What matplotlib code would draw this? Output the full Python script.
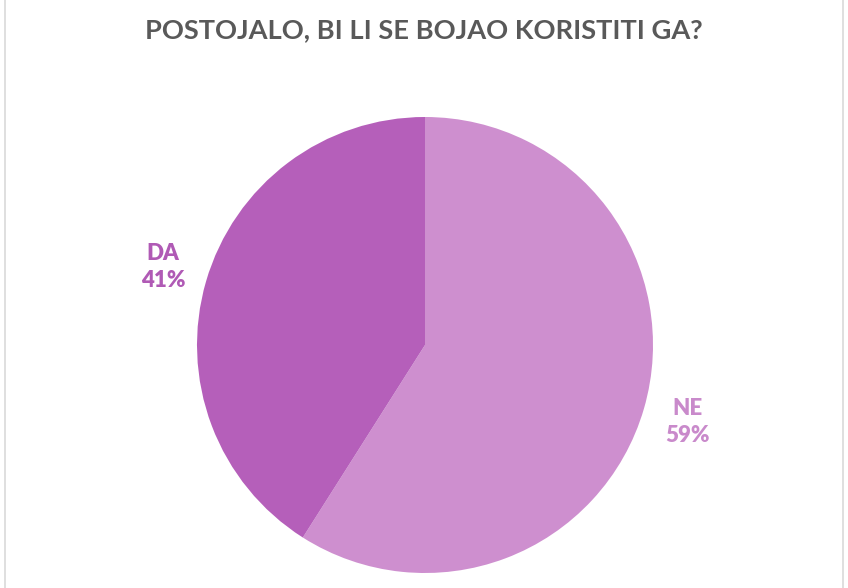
import matplotlib.pyplot as plt
from matplotlib.patches import Rectangle

labels = ['NE', 'DA']
values = [59, 41]
colors = ['#CE8FCF', '#B55FBA']
label_colors = ['#C98ACB', '#B05AB5']
title = 'POSTOJALO, BI LI SE BOJAO KORISTITI GA?'

W, H = 848, 588
fig = plt.figure(figsize=(W / 100, H / 100), dpi=100)
fig.patch.set_facecolor('white')

# chart frame (top and bottom cut off in the reference)
fig.patches.append(Rectangle((4.5 / W, -0.05), 838.5 / W, 1.1, transform=fig.transFigure,
                             fill=False, edgecolor='#D9D9D9', linewidth=1.2))

fig.text(424 / W, 1 - 30 / H, title, ha='center', va='center', fontsize=19.6,
         fontweight='bold', color='#595959', family='Lato')

cx, cy, r = 425, 345, 228
ax = fig.add_axes([(cx - r) / W, 1 - (cy + r) / H, 2 * r / W, 2 * r / H])
wedges, _ = ax.pie(values, colors=colors, startangle=90, counterclock=False,
                   wedgeprops=dict(linewidth=0), radius=1)
ax.set_xlim(-1, 1)
ax.set_ylim(-1, 1)
ax.set_aspect('equal')
ax.axis('off')

label_pos = [(687, 422), (163, 267)]
for lab, val, col, (x, y) in zip(labels, values, label_colors, label_pos):
    fig.text(x / W, 1 - y / H, f'{lab}\n{val}%', ha='center', va='center',
             fontsize=16, fontweight='heavy', color=col, family='Lato', linespacing=1.35)

fig.savefig('out.png', dpi=100, facecolor='white')
